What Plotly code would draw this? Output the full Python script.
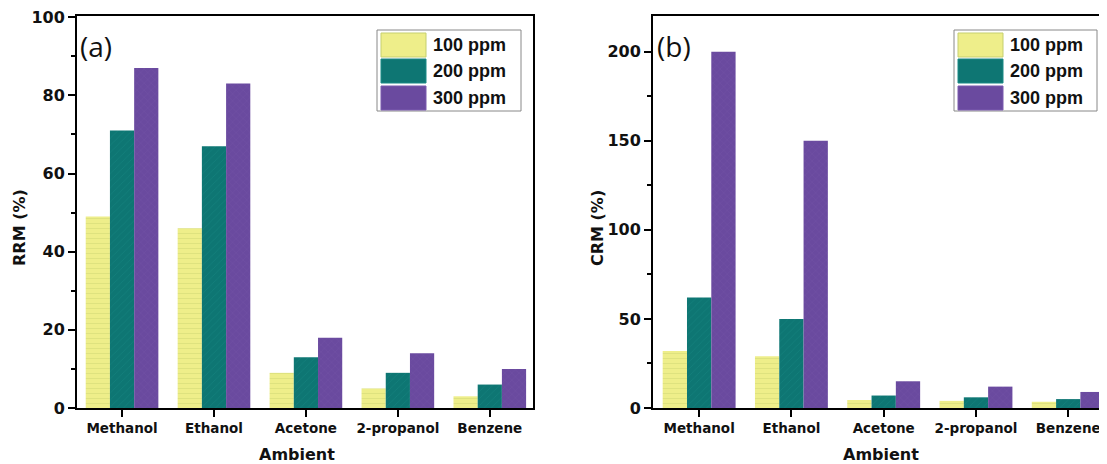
import plotly.graph_objects as go

# reference canvas size and page body offset (browser default margin)
W, H = 1107, 464
OFF = 8
FW, FH = W - OFF, H - OFF

categories = ["Methanol", "Ethanol", "Acetone", "2-propanol", "Benzene"]
series_names = ["100 ppm", "200 ppm", "300 ppm"]

rrm_100 = [49, 46, 9, 5, 3]
rrm_200 = [71, 67, 13, 9, 6]
rrm_300 = [87, 83, 18, 14, 10]

crm_100 = [32, 29, 4.5, 4, 3.5]
crm_200 = [62, 50, 7, 6, 5]
crm_300 = [200, 150, 15, 12, 9]

colors = ["#eeee8a", "#0e7673", "#6a4a9f"]
fgcolors = ["#c5cf6e", "#1a8a86", "#7a5aae"]
shapes_pat = ["-", "/", "x"]

fig = go.Figure()

def px_x(p):
    return (p - OFF) / FW

def px_y(p):
    return (H - p) / FH

panels = [
    dict(data=[rrm_100, rrm_200, rrm_300], xa="x", ya="y"),
    dict(data=[crm_100, crm_200, crm_300], xa="x2", ya="y2"),
]

for pi, pnl in enumerate(panels):
    for si, vals in enumerate(pnl["data"]):
        fig.add_trace(go.Bar(
            x=categories, y=vals, name=series_names[si],
            xaxis=pnl["xa"], yaxis=pnl["ya"],
            offsetgroup=str(si),
            showlegend=False,
            marker=dict(
                color=colors[si],
                line=dict(width=0),
                pattern=dict(shape=shapes_pat[si], fgcolor=fgcolors[si],
                             bgcolor=colors[si], size=5, solidity=0.15),
            ),
        ))

tick_font = dict(family="DejaVu Sans", size=13.5, color="#111111", weight="bold")
ytick_font = dict(family="DejaVu Sans", size=16, color="#111111", weight="bold")

common_x = dict(
    showline=True, linecolor="black", linewidth=2, mirror=True,
    ticks="outside", ticklen=7, tickwidth=2, tickcolor="black",
    tickfont=tick_font, showgrid=False, zeroline=False,
    fixedrange=True, automargin=False, ticklabeloverflow="allow",
)
common_y = dict(
    showline=True, linecolor="black", linewidth=2, mirror=True,
    ticks="outside", ticklen=7, tickwidth=2, tickcolor="black",
    tickfont=ytick_font, showgrid=False, zeroline=False,
    fixedrange=True, automargin=False, ticklabeloverflow="allow",
)

ydom = [px_y(408), px_y(16)]

fig.update_layout(
    width=FW, height=FH,
    margin=dict(l=0, r=0, t=0, b=0, pad=0, autoexpand=False),
    paper_bgcolor="white", plot_bgcolor="white",
    barmode="group", bargap=0.21, bargroupgap=0,
    font=dict(family="DejaVu Sans", color="#111111"),
    xaxis=dict(domain=[px_x(77), px_x(533)], range=[-0.49, 4.47],
               anchor="y", **common_x),
    yaxis=dict(domain=ydom, range=[0, 100.3], tickvals=[0, 20, 40, 60, 80, 100],
               anchor="x",
               minor=dict(tickvals=[10, 30, 50, 70, 90], ticks="outside", ticklen=4,
                          tickwidth=1.5, tickcolor="black"),
               **common_y),
    xaxis2=dict(domain=[px_x(653), 1.0], range=[-0.5, 4.42],
                anchor="y2", **common_x),
    yaxis2=dict(domain=ydom, range=[0, 220], tickvals=[0, 50, 100, 150, 200],
                anchor="x2",
                minor=dict(tickvals=[25, 75, 125, 175], ticks="outside", ticklen=4,
                           tickwidth=1.5, tickcolor="black"),
                **common_y),
)

annotations = []
# axis titles
for cx, cy, txt, ang in [
    (297, 454, "Ambient", 0),
    (881, 454, "Ambient", 0),
    (20, 228, "RRM (%)", -90),
    (598, 228, "CRM (%)", -90),
]:
    annotations.append(dict(
        x=px_x(cx), y=px_y(cy), xref="paper", yref="paper", text=f"<b>{txt}</b>",
        showarrow=False, textangle=ang, xanchor="center", yanchor="middle",
        font=dict(family="DejaVu Sans", size=16, color="#111111"),
    ))
# panel labels
for lx, txt in [(78, "(a)"), (655, "(b)")]:
    annotations.append(dict(
        x=px_x(lx), y=px_y(46), xref="paper", yref="paper", text=txt,
        showarrow=False, xanchor="left", yanchor="middle",
        font=dict(family="Open Sans", size=28, color="#111111"),
    ))

shapes = []
# custom legends
for bx0, bx1 in [(377, 521), (954, 1097)]:
    shapes.append(dict(type="rect", xref="paper", yref="paper",
                       x0=px_x(bx0), x1=px_x(bx1), y0=px_y(111), y1=px_y(30),
                       line=dict(color="#888888", width=1), fillcolor="white"))
    sw0, sw1 = bx0 + 4, bx0 + 49
    rows = [(33, 57), (59, 83), (86, 110)]
    for si, (ry0, ry1) in enumerate(rows):
        shapes.append(dict(type="rect", xref="paper", yref="paper",
                           x0=px_x(sw0), x1=px_x(sw1), y0=px_y(ry1), y1=px_y(ry0),
                           line=dict(color=fgcolors[si], width=1), fillcolor=colors[si]))
        annotations.append(dict(
            x=px_x(sw1 + 5), y=px_y((ry0 + ry1) / 2), xref="paper", yref="paper",
            text=f"<b>{series_names[si]}</b>", showarrow=False,
            xanchor="left", yanchor="middle",
            font=dict(family="Liberation Sans", size=18, color="#111111"),
        ))

fig.update_layout(annotations=annotations, shapes=shapes)

fig.write_html("out.html")
